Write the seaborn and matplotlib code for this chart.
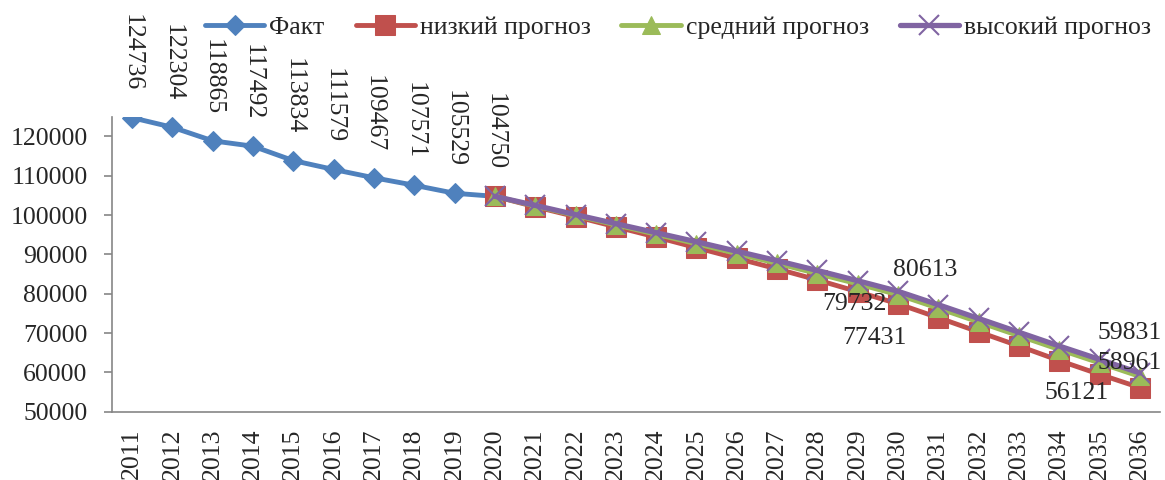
import matplotlib
matplotlib.use('Agg')
import matplotlib.pyplot as plt
import pandas as pd
import seaborn as sns

# --- data ---
years_fact = [2011, 2012, 2013, 2014, 2015, 2016, 2017, 2018, 2019, 2020]
fact = [124736, 122304, 118865, 117492, 113834, 111579, 109467, 107571, 105529, 104750]

years_fc = [2020, 2021, 2022, 2023, 2024, 2025, 2026, 2027, 2028,
            2029, 2030, 2031, 2032, 2033, 2034, 2035, 2036]
low = [104750, 102100, 99600, 97000, 94400, 91700, 89000, 86300, 83500,
       80500, 77431, 73900, 70300, 66700, 63000, 59500, 56121]
mid = [104750, 102300, 99900, 97500, 95100, 92700, 90200, 87700, 85100,
       82500, 79732, 76300, 72800, 69300, 65800, 62400, 58961]
high = [104750, 102450, 100100, 97800, 95500, 93200, 90800, 88400, 85900,
        83300, 80613, 77200, 73700, 70200, 66700, 63300, 59831]

all_years = years_fact + years_fc[1:]
y_ticks = [50000, 60000, 70000, 80000, 90000, 100000, 110000, 120000]

df_fact = pd.DataFrame({'year': years_fact, 'value': fact})
df_low = pd.DataFrame({'year': years_fc, 'value': low})
df_mid = pd.DataFrame({'year': years_fc, 'value': mid})
df_high = pd.DataFrame({'year': years_fc, 'value': high})

sns.set_style('white')
plt.rcParams['font.family'] = ['Liberation Serif', 'DejaVu Serif']
FS = 18.5

fig = plt.figure(figsize=(11.65, 4.8), dpi=100)
ax = fig.add_axes([0.0961, 0.1423, 0.8996, 0.6146])

sns.lineplot(data=df_fact, x='year', y='value', ax=ax, color='#4F81BD', lw=3.5,
             marker='D', markersize=10.5, markeredgecolor='#4F81BD', label='Факт')
sns.lineplot(data=df_low, x='year', y='value', ax=ax, color='#C0504D', lw=3.5,
             marker='s', markersize=14, markeredgecolor='#C0504D', label='низкий прогноз')
sns.lineplot(data=df_mid, x='year', y='value', ax=ax, color='#9BBB59', lw=3.5,
             marker='^', markersize=13.5, markeredgecolor='#9BBB59', label='средний прогноз')
sns.lineplot(data=df_high, x='year', y='value', ax=ax, color='#8064A2', lw=3.8,
             marker='x', markersize=14, markeredgewidth=1.5, markeredgecolor='#8064A2',
             label='высокий прогноз')

# data labels: fact values rotated above points
for yr, v in zip(years_fact, fact):
    ax.annotate(str(v), (yr, v), xytext=(0, 26), textcoords='offset pixels',
                rotation=-90, ha='center', va='bottom', fontsize=FS)

# selected forecast labels (offsets in pixels)
label_spots = [
    (years_fc, high, 2030, (27, 21)),
    (years_fc, mid, 2030, (-44, -9)),
    (years_fc, low, 2030, (-24, -34)),
    (years_fc, high, 2036, (-10, 40)),
    (years_fc, mid, 2036, (-10, 13)),
    (years_fc, low, 2036, (-63, -5)),
]
for yrs, vals, yr, off in label_spots:
    v = vals[yrs.index(yr)]
    ax.annotate(str(v), (yr, v), xytext=off, textcoords='offset pixels',
                ha='center', va='center', fontsize=FS)

ax.set_xlim(all_years[0] - 0.5, all_years[-1] + 0.5)
ax.set_ylim(50000, 125000)
ax.set_yticks(y_ticks)
ax.set_yticklabels([str(t) for t in y_ticks], fontsize=FS)
ax.set_xticks(all_years)
ax.set_xticklabels([str(y) for y in all_years], rotation=90, fontsize=FS)
ax.set_xticks([y - 0.5 for y in all_years] + [all_years[-1] + 0.5], minor=True)
ax.tick_params(axis='x', which='major', length=0, pad=12)
ax.tick_params(axis='x', which='minor', length=5, width=1.2, color='#868686', direction='out')
ax.tick_params(axis='y', length=5.5, width=1.2, color='#868686', direction='out', pad=12, left=True)
ax.set_xlabel('')
ax.set_ylabel('')
ax.grid(False)

for s in ['top', 'right']:
    ax.spines[s].set_visible(False)
for s in ['left', 'bottom']:
    ax.spines[s].set_color('#868686')
    ax.spines[s].set_linewidth(1.2)

handles, labels = ax.get_legend_handles_labels()
ax.legend(handles, labels, ncol=4, frameon=False, loc='center',
          bbox_to_anchor=(0.582, 0.942), bbox_transform=fig.transFigure,
          fontsize=FS, handlelength=2.3, handletextpad=0.2, columnspacing=1.2)

fig.savefig('out.png', dpi=100)
